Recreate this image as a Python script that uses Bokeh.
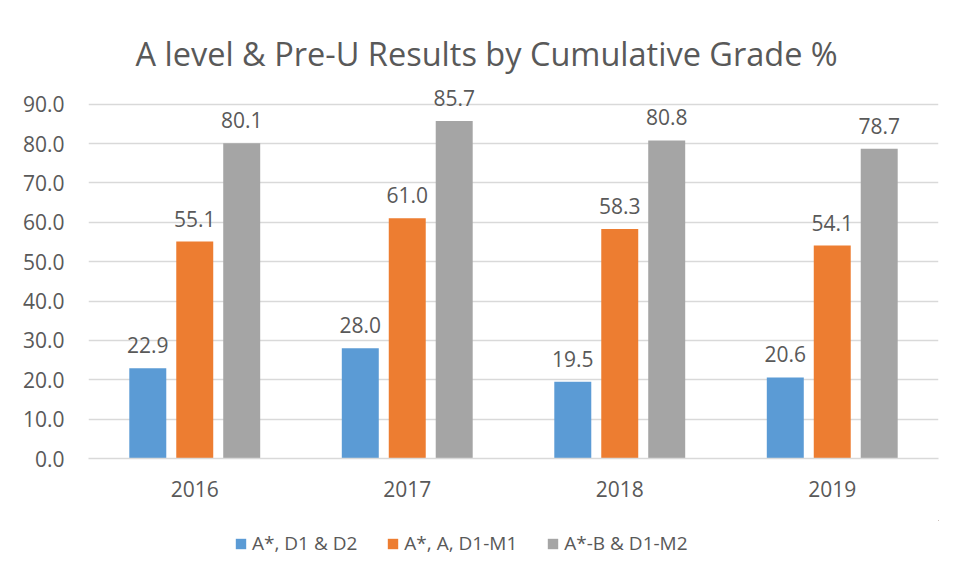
from bokeh.plotting import figure
from bokeh.layouts import column
from bokeh.models import ColumnDataSource, FixedTicker, Legend, LegendItem, Range1d, FactorRange, CustomJSTickFormatter
from bokeh.transform import dodge
from bokeh.core.properties import value
from bokeh.embed import file_html
from bokeh.resources import INLINE

years = ["2016", "2017", "2018", "2019"]
series_names = ["A*, D1 & D2", "A*, A, D1-M1", "A*-B & D1-M2"]
s1 = [22.9, 28.0, 19.5, 20.6]
s2 = [55.1, 61.0, 58.3, 54.1]
s3 = [80.1, 85.7, 80.8, 78.7]
colors = ["#5B9BD5", "#ED7D31", "#A5A5A5"]
y_ticks = [0, 10, 20, 30, 40, 50, 60, 70, 80, 90]

FONT = "Open Sans"
TXT = "#595959"

src = ColumnDataSource(dict(
    year=years, s1=s1, s2=s2, s3=s3,
    l1=[f"{v:.1f}" for v in s1], l2=[f"{v:.1f}" for v in s2], l3=[f"{v:.1f}" for v in s3],
))

p = figure(width=941, height=520, x_range=FactorRange(*years), y_range=Range1d(0, 95),
           output_backend="svg", toolbar_location=None,
           frame_width=850, frame_height=374,
           min_border_left=88, min_border_right=3, min_border_top=84, min_border_bottom=62)

p.title.text = "A level & Pre-U Results by Cumulative Grade %"
p.title.align = "left"
p.title.offset = 47
p.title.text_font = FONT
p.title.text_font_size = "32.5px"
p.title.text_font_style = "normal"
p.title.text_color = TXT
p.title.standoff = 18

p.outline_line_color = None
p.border_fill_color = "white"

offsets = [-0.221, 0.0, 0.221]
keys = ["s1", "s2", "s3"]
lkeys = ["l1", "l2", "l3"]
for k, lk, off, c in zip(keys, lkeys, offsets, colors):
    p.vbar(x=dodge("year", off, range=p.x_range), top=k, width=0.174, source=src,
           fill_color=c, line_color=None)
    p.text(x=dodge("year", off, range=p.x_range), y=k, text=lk, source=src,
           text_font=value(FONT), text_font_size="21px", text_color=TXT,
           text_align="center", text_baseline="bottom", y_offset=-15)

p.yaxis.ticker = FixedTicker(ticks=y_ticks)
p.yaxis.formatter = CustomJSTickFormatter(code="return tick.toFixed(1);")
p.yaxis.axis_line_color = None
p.yaxis.major_tick_line_color = None
p.yaxis.minor_tick_line_color = None
p.yaxis.major_label_text_font = FONT
p.yaxis.major_label_text_font_size = "21px"
p.yaxis.major_label_text_color = TXT
p.yaxis.major_label_standoff = 18

p.xaxis.axis_line_color = "#D9D9D9"
p.xaxis.axis_line_width = 1.5
p.xaxis.major_tick_line_color = None
p.xaxis.minor_tick_line_color = None
p.xaxis.major_label_text_font = FONT
p.xaxis.major_label_text_font_size = "21px"
p.xaxis.major_label_text_color = TXT
p.xaxis.major_label_standoff = 16

p.xgrid.grid_line_color = None
p.ygrid.grid_line_color = "#D9D9D9"
p.ygrid.grid_line_width = 1.5
p.ygrid.ticker = FixedTicker(ticks=y_ticks)

# legend strip below the chart (its frame is aligned with the chart's frame)
lg = figure(width=941, height=41, x_range=Range1d(0, 1), y_range=Range1d(0, 1),
            output_backend="svg", toolbar_location=None,
            x_axis_location=None, y_axis_location=None,
            min_border_left=0, min_border_right=0, min_border_top=0, min_border_bottom=0)
lg.outline_line_color = None
lg.xgrid.grid_line_color = None
lg.ygrid.grid_line_color = None
items = []
for k, c, name in zip(keys, colors, series_names):
    # proxy renderers: zero-size and outside this strip's ranges, only the swatch shows
    r = lg.vbar(x=k, top=k, bottom=k, width=0, source=src, fill_color=c, line_color=None)
    items.append(LegendItem(label=name, renderers=[r]))
legend = Legend(items=items, orientation="horizontal", location=(146, 5),
                label_text_font=FONT, label_text_font_size="19px", label_text_color=TXT,
                glyph_width=13, glyph_height=13, spacing=29, label_standoff=5,
                border_line_color=None, background_fill_alpha=0, margin=0, padding=0)
lg.add_layout(legend, "center")

layout = column(p, lg, spacing=0)

html = file_html(layout, INLINE)
open("out.html", "w").write(html)
